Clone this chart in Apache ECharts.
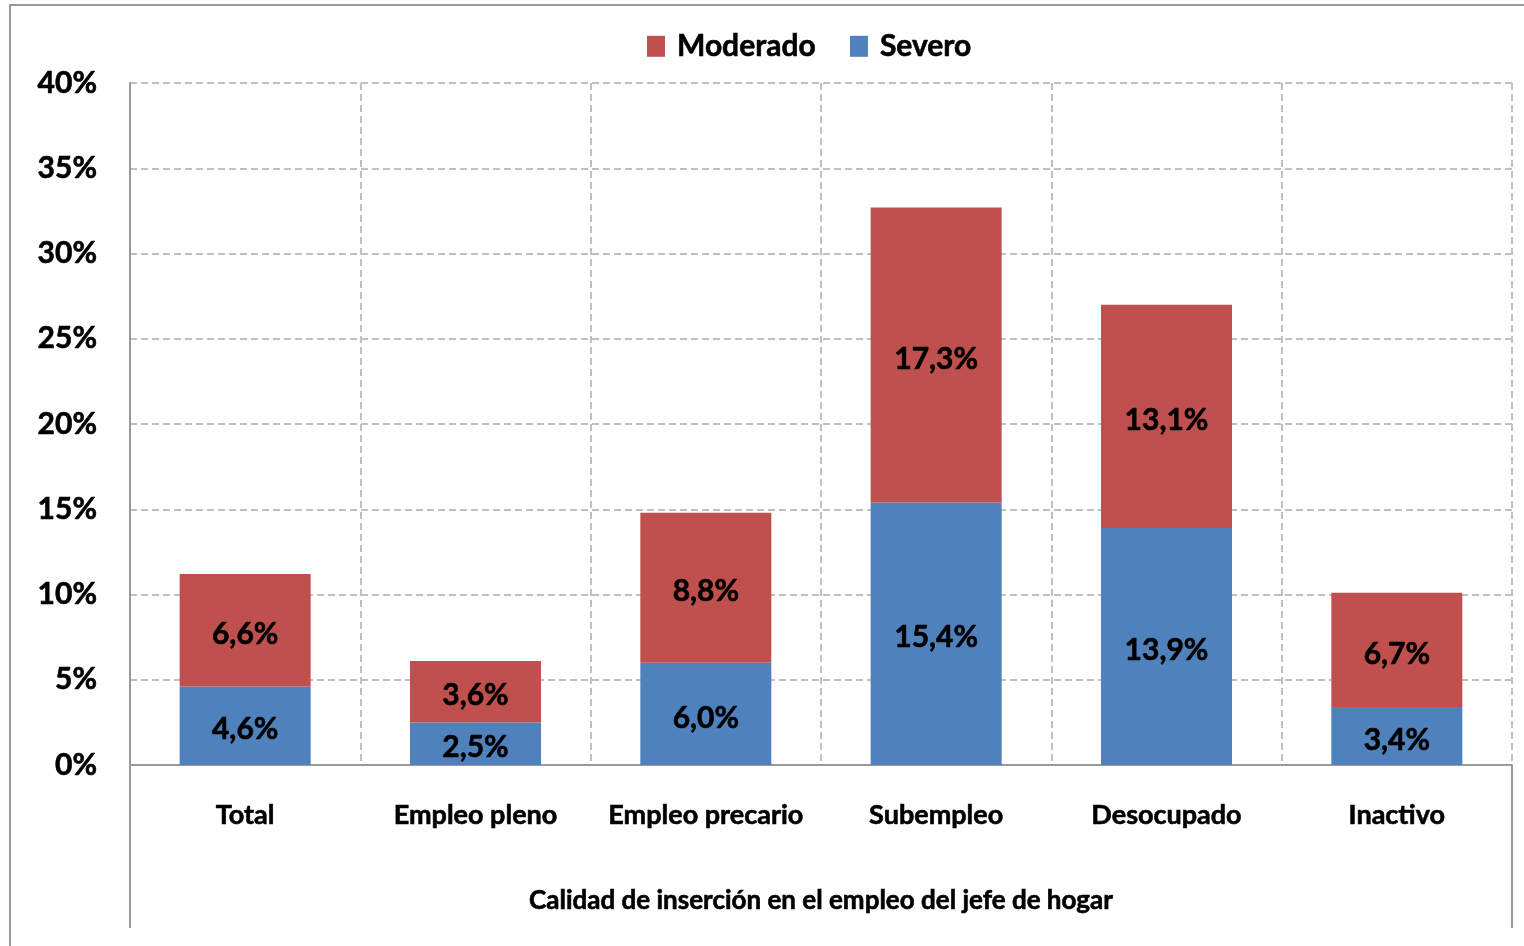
<!DOCTYPE html>
<html>
<head>
<meta charset="utf-8">
<script src="https://cdn.jsdelivr.net/npm/echarts@6/dist/echarts.min.js"></script>
<style>
  html, body { margin: 0; padding: 0; background: #fff; }
  #main { width: 1524px; height: 946px; }
</style>
</head>
<body>
<div id="main"></div>
<script>
var categories = ['Total', 'Empleo pleno', 'Empleo precario', 'Subempleo', 'Desocupado', 'Inactivo'];
var severo = [4.6, 2.5, 6.0, 15.4, 13.9, 3.4];
var moderado = [6.6, 3.6, 8.8, 17.3, 13.1, 6.7];
var yTicks = [0, 5, 10, 15, 20, 25, 30, 35, 40];

var fontFam = 'Lato, "Open Sans", sans-serif';
var gridColor = '#c0c0c0';
var axisColor = '#999999';

var chart = echarts.init(document.getElementById('main'));

function pct(v) {
    return v.toFixed(1).replace('.', ',') + '%';
}

// bold text, slightly thickened to look like the heavier original font
function boldText(size) {
    return {
        color: '#000',
        fontFamily: fontFam,
        fontWeight: 'bold',
        fontSize: size,
        textBorderColor: '#000',
        textBorderWidth: 0.6
    };
}

var labelStyle = Object.assign({
    show: true,
    position: 'inside',
    offset: [0, 4],
    formatter: function (p) { return pct(p.value); }
}, boldText(30));

var option = {
    animation: false,
    backgroundColor: '#fff',
    legend: {
        top: 26,
        left: 642,
        itemWidth: 18,
        itemHeight: 21,
        itemGap: 34,
        icon: 'rect',
        textStyle: Object.assign({ padding: [0, 0, 0, 7] }, boldText(30)),
        data: ['Moderado', 'Severo']
    },
    grid: {
        left: 130,
        right: 12,
        top: 83,
        bottom: 181
    },
    xAxis: {
        type: 'category',
        data: categories,
        axisLine: { lineStyle: { color: axisColor, width: 2 } },
        axisTick: { show: false },
        axisLabel: Object.assign({ margin: 37, interval: 0 }, boldText(27)),
        splitLine: {
            show: true,
            interval: 0,
            lineStyle: { color: gridColor, width: 2, type: [7, 4] }
        },
        name: 'Calidad de inserción en el empleo del jefe de hogar',
        nameLocation: 'middle',
        nameGap: 123,
        nameTextStyle: boldText(26)
    },
    yAxis: {
        type: 'value',
        min: yTicks[0],
        max: yTicks[yTicks.length - 1],
        interval: 5,
        axisLine: { show: true, lineStyle: { color: axisColor, width: 2 } },
        axisTick: { show: false },
        axisLabel: Object.assign({ margin: 33, formatter: '{value}%' }, boldText(30)),
        splitLine: {
            lineStyle: { color: gridColor, width: 2, type: [7, 4] }
        }
    },
    series: [
        {
            name: 'Severo',
            type: 'bar',
            stack: 'total',
            barWidth: 131,
            data: severo,
            itemStyle: { color: '#4F81BD' },
            label: labelStyle
        },
        {
            name: 'Moderado',
            type: 'bar',
            stack: 'total',
            barWidth: 131,
            data: moderado,
            itemStyle: { color: '#C0504D' },
            label: labelStyle
        }
    ],
    graphic: [
        {
            type: 'rect',
            shape: { x: 10, y: 5, width: 1600, height: 1000 },
            style: { fill: null, stroke: '#999999', lineWidth: 2 },
            silent: true
        },
        {
            type: 'line',
            shape: { x1: 130, y1: 765, x2: 130, y2: 928 },
            style: { stroke: axisColor, lineWidth: 2 }
        },
        {
            type: 'line',
            shape: { x1: 1512, y1: 765, x2: 1512, y2: 928 },
            style: { stroke: axisColor, lineWidth: 2 }
        }
    ]
};

chart.setOption(option);
</script>
</body>
</html>
